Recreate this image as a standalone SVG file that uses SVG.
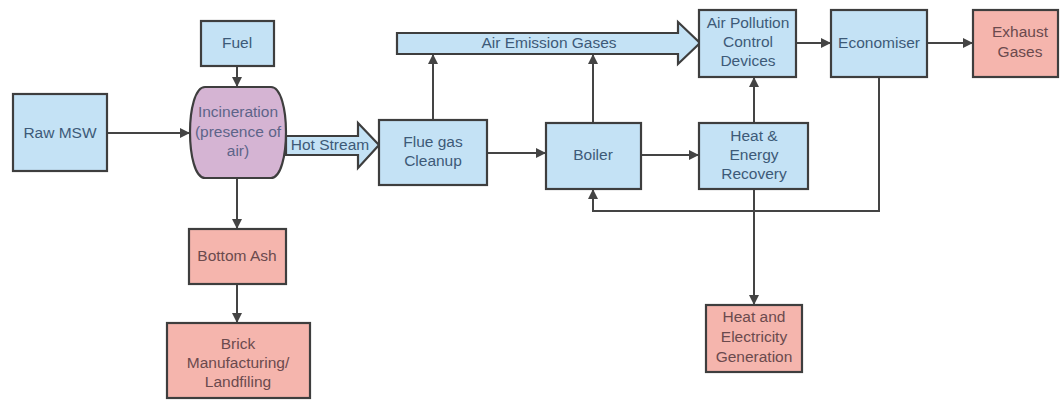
<svg xmlns="http://www.w3.org/2000/svg" width="1060" height="400" viewBox="0 0 1060 400">
<defs>
<style>
.b{fill:#c4e2f5;stroke:#3e3e3e;stroke-width:2.2}
.p{fill:#f5b5ad;stroke:#3e3e3e;stroke-width:2.2}
.v{fill:#d5b4d3;stroke:#3e3e3e;stroke-width:2.2}
.t{font-family:"Liberation Sans",Arial,sans-serif;font-size:15.5px;text-anchor:middle;fill:#3d5a78}
.tp{font-family:"Liberation Sans",Arial,sans-serif;font-size:15.5px;text-anchor:middle;fill:#6b4a4d}
.tv{font-family:"Liberation Sans",Arial,sans-serif;font-size:15.5px;text-anchor:middle;fill:#5d6489}
.c{fill:none;stroke:#444;stroke-width:2;marker-end:url(#ah)}
</style>
<marker id="ah" viewBox="0 0 10 10" refX="10" refY="5" markerWidth="10" markerHeight="10" markerUnits="userSpaceOnUse" orient="auto">
<path d="M0,0 L10,5 L0,10 Z" fill="#444"/>
</marker>
</defs>
<rect width="1060" height="400" fill="#ffffff"/>
<g id="connectors">
<line class="c" x1="107" y1="133" x2="190" y2="133"/>
<line class="c" x1="237" y1="66" x2="237" y2="87"/>
<line class="c" x1="237" y1="178" x2="237" y2="229"/>
<line class="c" x1="237" y1="284" x2="237" y2="323"/>
<line class="c" x1="433" y1="120" x2="433" y2="54"/>
<line class="c" x1="593" y1="123" x2="593" y2="54"/>
<line class="c" x1="487" y1="153" x2="546" y2="153"/>
<line class="c" x1="641" y1="155" x2="699" y2="155"/>
<line class="c" x1="754" y1="123" x2="754" y2="77"/>
<line class="c" x1="796" y1="43" x2="831" y2="43"/>
<line class="c" x1="927" y1="43" x2="973" y2="43"/>
<polyline class="c" points="879,77 879,211 593,211 593,189"/>
<line class="c" x1="754" y1="189" x2="754" y2="305"/>
</g>
<g id="hot-stream">
<polygon class="b" points="286,136 358,136 358,123 379,145 358,168 358,155 286,155"/>
<text class="t" x="330" y="150">Hot Stream</text>
</g>
<g id="air-emission-gases">
<polygon class="b" points="397,33 678,33 678,22 700,43 678,64 678,54 397,54"/>
<text class="t" x="549" y="48">Air Emission Gases</text>
</g>
<g id="raw-msw">
<rect class="b" x="13" y="94" width="94" height="77"/>
<text class="t" x="60" y="138">Raw MSW</text>
</g>
<g id="fuel">
<rect class="b" x="201" y="21" width="73" height="45"/>
<text class="t" x="237" y="48">Fuel</text>
</g>
<g id="incineration">
<path class="v" d="M205,87 H271 C281,87 286,110 286,132 C286,155 281,178 271,178 H205 C195,178 190,155 190,132 C190,110 195,87 205,87 Z"/>
<text class="tv" x="238" y="117">Incineration</text>
<text class="tv" x="238" y="137">(presence of</text>
<text class="tv" x="238" y="156">air)</text>
</g>
<g id="bottom-ash">
<rect class="p" x="189" y="229" width="97" height="55"/>
<text class="tp" x="237" y="261">Bottom Ash</text>
</g>
<g id="brick">
<rect class="p" x="167" y="323" width="143" height="75"/>
<text class="tp" x="238" y="349">Brick</text>
<text class="tp" x="238" y="368">Manufacturing/</text>
<text class="tp" x="238" y="387">Landfiling</text>
</g>
<g id="flue-gas-cleanup">
<rect class="b" x="379" y="120" width="108" height="65"/>
<text class="t" x="433" y="147">Flue gas</text>
<text class="t" x="433" y="166">Cleanup</text>
</g>
<g id="boiler">
<rect class="b" x="546" y="123" width="95" height="66"/>
<text class="t" x="593" y="160">Boiler</text>
</g>
<g id="heat-energy-recovery">
<rect class="b" x="699" y="123" width="109" height="66"/>
<text class="t" x="754" y="141">Heat &amp;</text>
<text class="t" x="754" y="160">Energy</text>
<text class="t" x="754" y="179">Recovery</text>
</g>
<g id="apcd">
<rect class="b" x="699" y="10" width="97" height="67"/>
<text class="t" x="748" y="28">Air Pollution</text>
<text class="t" x="748" y="47">Control</text>
<text class="t" x="748" y="66">Devices</text>
</g>
<g id="economiser">
<rect class="b" x="831" y="10" width="96" height="67"/>
<text class="t" x="879" y="48">Economiser</text>
</g>
<g id="exhaust-gases">
<rect class="p" x="973" y="10" width="85" height="67"/>
<text class="tp" x="1020" y="37">Exhaust</text>
<text class="tp" x="1020" y="57">Gases</text>
</g>
<g id="heat-electricity">
<rect class="p" x="706" y="305" width="96" height="67"/>
<text class="tp" x="754" y="322">Heat and</text>
<text class="tp" x="754" y="342">Electricity</text>
<text class="tp" x="754" y="362">Generation</text>
</g>
</svg>
